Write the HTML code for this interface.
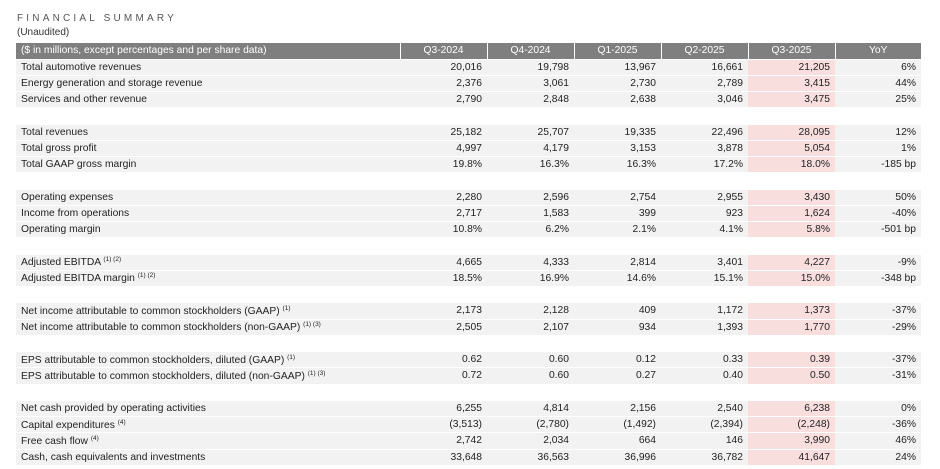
<!DOCTYPE html>
<html><head><meta charset="utf-8"><style>
body{margin:0;background:#fff;width:940px;height:469px;overflow:hidden;font-family:"Liberation Sans",Arial,sans-serif;color:#222}
.t1{position:absolute;left:17px;top:13px;font-size:10px;letter-spacing:3.2px;color:#555}
.t2{position:absolute;left:17px;top:27px;font-size:10px;color:#333}
table{position:absolute;left:16px;top:43px;border-collapse:collapse;font-size:10.3px;table-layout:fixed}
td{height:15.25px;padding:0;border-bottom:1px solid #fff;background:#f2f2f2;text-align:right;padding-right:5px;white-space:nowrap;overflow:hidden}
td:first-child{text-align:left;padding-left:5px;padding-right:0}
td.p{background:#f9dede}
tr.h td{background:#7f7f7f;color:#fff;text-align:center;padding:0;border-left:1px solid #fff;height:15.5px}
tr.h td:first-child{text-align:left;padding-left:5px;border-left:none}
tr.b td{background:#fff}
sup{font-size:6.5px;vertical-align:4px}
</style></head><body>
<div class="t1">FINANCIAL SUMMARY</div>
<div class="t2">(Unaudited)</div>
<table>
<colgroup><col style="width:384px"><col style="width:87px"><col style="width:87px"><col style="width:87px"><col style="width:87px"><col style="width:87px"><col style="width:86px"></colgroup>
<tr class="h"><td>($ in millions, except percentages and per share data)</td><td>Q3-2024</td><td>Q4-2024</td><td>Q1-2025</td><td>Q2-2025</td><td>Q3-2025</td><td>YoY</td></tr>
<tr><td>Total automotive revenues</td><td>20,016</td><td>19,798</td><td>13,967</td><td>16,661</td><td class="p">21,205</td><td>6%</td></tr>
<tr><td>Energy generation and storage revenue</td><td>2,376</td><td>3,061</td><td>2,730</td><td>2,789</td><td class="p">3,415</td><td>44%</td></tr>
<tr><td>Services and other revenue</td><td>2,790</td><td>2,848</td><td>2,638</td><td>3,046</td><td class="p">3,475</td><td>25%</td></tr>
<tr class="b"><td></td><td></td><td></td><td></td><td></td><td></td><td></td></tr>
<tr><td>Total revenues</td><td>25,182</td><td>25,707</td><td>19,335</td><td>22,496</td><td class="p">28,095</td><td>12%</td></tr>
<tr><td>Total gross profit</td><td>4,997</td><td>4,179</td><td>3,153</td><td>3,878</td><td class="p">5,054</td><td>1%</td></tr>
<tr><td>Total GAAP gross margin</td><td>19.8%</td><td>16.3%</td><td>16.3%</td><td>17.2%</td><td class="p">18.0%</td><td>-185 bp</td></tr>
<tr class="b"><td></td><td></td><td></td><td></td><td></td><td></td><td></td></tr>
<tr><td>Operating expenses</td><td>2,280</td><td>2,596</td><td>2,754</td><td>2,955</td><td class="p">3,430</td><td>50%</td></tr>
<tr><td>Income from operations</td><td>2,717</td><td>1,583</td><td>399</td><td>923</td><td class="p">1,624</td><td>-40%</td></tr>
<tr><td>Operating margin</td><td>10.8%</td><td>6.2%</td><td>2.1%</td><td>4.1%</td><td class="p">5.8%</td><td>-501 bp</td></tr>
<tr class="b"><td></td><td></td><td></td><td></td><td></td><td></td><td></td></tr>
<tr><td>Adjusted EBITDA <sup>(1) (2)</sup></td><td>4,665</td><td>4,333</td><td>2,814</td><td>3,401</td><td class="p">4,227</td><td>-9%</td></tr>
<tr><td>Adjusted EBITDA margin <sup>(1) (2)</sup></td><td>18.5%</td><td>16.9%</td><td>14.6%</td><td>15.1%</td><td class="p">15.0%</td><td>-348 bp</td></tr>
<tr class="b"><td></td><td></td><td></td><td></td><td></td><td></td><td></td></tr>
<tr><td>Net income attributable to common stockholders (GAAP) <sup>(1)</sup></td><td>2,173</td><td>2,128</td><td>409</td><td>1,172</td><td class="p">1,373</td><td>-37%</td></tr>
<tr><td>Net income attributable to common stockholders (non-GAAP) <sup>(1) (3)</sup></td><td>2,505</td><td>2,107</td><td>934</td><td>1,393</td><td class="p">1,770</td><td>-29%</td></tr>
<tr class="b"><td></td><td></td><td></td><td></td><td></td><td></td><td></td></tr>
<tr><td>EPS attributable to common stockholders, diluted (GAAP) <sup>(1)</sup></td><td>0.62</td><td>0.60</td><td>0.12</td><td>0.33</td><td class="p">0.39</td><td>-37%</td></tr>
<tr><td>EPS attributable to common stockholders, diluted (non-GAAP) <sup>(1) (3)</sup></td><td>0.72</td><td>0.60</td><td>0.27</td><td>0.40</td><td class="p">0.50</td><td>-31%</td></tr>
<tr class="b"><td></td><td></td><td></td><td></td><td></td><td></td><td></td></tr>
<tr><td>Net cash provided by operating activities</td><td>6,255</td><td>4,814</td><td>2,156</td><td>2,540</td><td class="p">6,238</td><td>0%</td></tr>
<tr><td>Capital expenditures <sup>(4)</sup></td><td>(3,513)</td><td>(2,780)</td><td>(1,492)</td><td>(2,394)</td><td class="p">(2,248)</td><td>-36%</td></tr>
<tr><td>Free cash flow <sup>(4)</sup></td><td>2,742</td><td>2,034</td><td>664</td><td>146</td><td class="p">3,990</td><td>46%</td></tr>
<tr><td>Cash, cash equivalents and investments</td><td>33,648</td><td>36,563</td><td>36,996</td><td>36,782</td><td class="p">41,647</td><td>24%</td></tr>
</table>
</body></html>
